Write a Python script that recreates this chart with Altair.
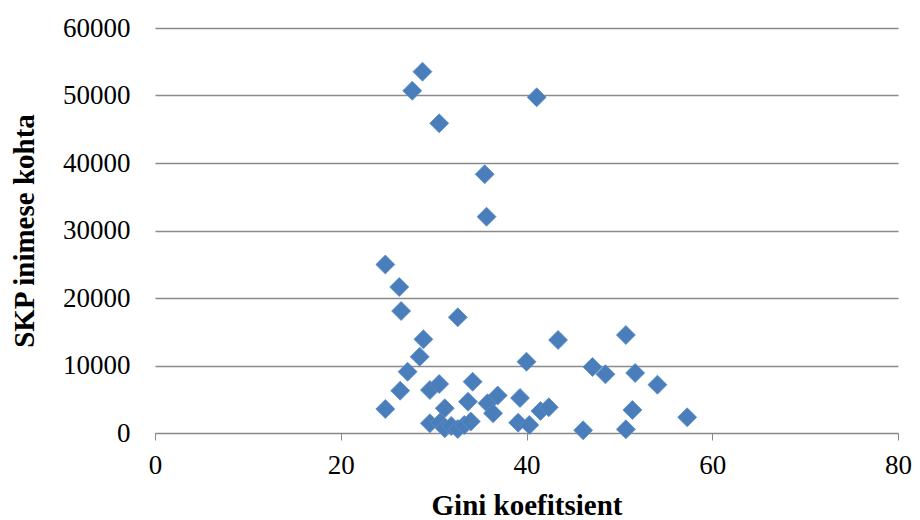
import altair as alt
import pandas as pd

gini = [24.8, 26.3, 26.5, 32.6, 28.8, 27.7, 41.1, 30.6, 35.5, 35.7,
        28.9, 28.5, 27.2, 26.4, 24.8, 29.6, 30.6, 34.2, 33.7, 31.2,
        29.6, 30.7, 31.2, 31.9, 32.6, 33.3, 34.0, 35.8, 36.9, 36.4,
        39.3, 39.1, 40.3, 41.5, 42.4, 40.0, 43.4, 46.1, 47.1, 48.5,
        50.7, 51.7, 54.1, 51.4, 57.3, 50.7]
gdp = [24960, 21630, 18070, 17140, 53530, 50710, 49730, 45880, 38330, 32050,
       13880, 11300, 9080, 6270, 3560, 6370, 7260, 7600, 4640, 3660,
       1440, 1560, 700, 1040, 590, 1190, 1700, 4400, 5560, 2920,
       5190, 1530, 1190, 3260, 3810, 10560, 13780, 400, 9780, 8700,
       14520, 8890, 7160, 3410, 2330, 550]

df = pd.DataFrame({"gini": gini, "gdp": gdp})

chart = alt.Chart(df).mark_point(
    shape="diamond", filled=True, size=360, color="#4A7EBB", opacity=1,
    stroke="#5B8DC8", strokeWidth=0.8
).encode(
    x=alt.X("gini:Q", title="Gini koefitsient",
            scale=alt.Scale(domain=[0, 80], nice=False),
            axis=alt.Axis(values=[0, 20, 40, 60, 80], grid=False, format="d",
                          labelFlush=False, labelOverlap=False,
                          tickSize=7, tickColor="#888888", domainColor="#888888",
                          labelFont="Liberation Serif", labelFontSize=27, labelColor="black",
                          labelPadding=12, titleFont="Liberation Serif", titleFontSize=29,
                          titleFontWeight="bold", titleColor="black", titlePadding=13)),
    y=alt.Y("gdp:Q", title="SKP inimese kohta",
            scale=alt.Scale(domain=[0, 60000], nice=False),
            axis=alt.Axis(values=[0, 10000, 20000, 30000, 40000, 50000, 60000],
                          grid=True, gridColor="#8a8a8a", gridWidth=1.3, format="d",
                          domain=False, ticks=False, labelPadding=25,
                          labelFlush=False, labelOverlap=False,
                          labelFont="Liberation Serif", labelFontSize=27, labelColor="black",
                          titleFont="Liberation Serif", titleFontSize=29,
                          titleFontWeight="bold", titleColor="black", titlePadding=23)),
).properties(
    width=743, height=405,
    autosize=alt.AutoSizeParams(type="none"),
    padding={"left": 147, "top": 20, "right": 14, "bottom": 92},
).configure_view(stroke=None)

chart.save("out.html", embed_options={"renderer": "svg", "actions": False})
